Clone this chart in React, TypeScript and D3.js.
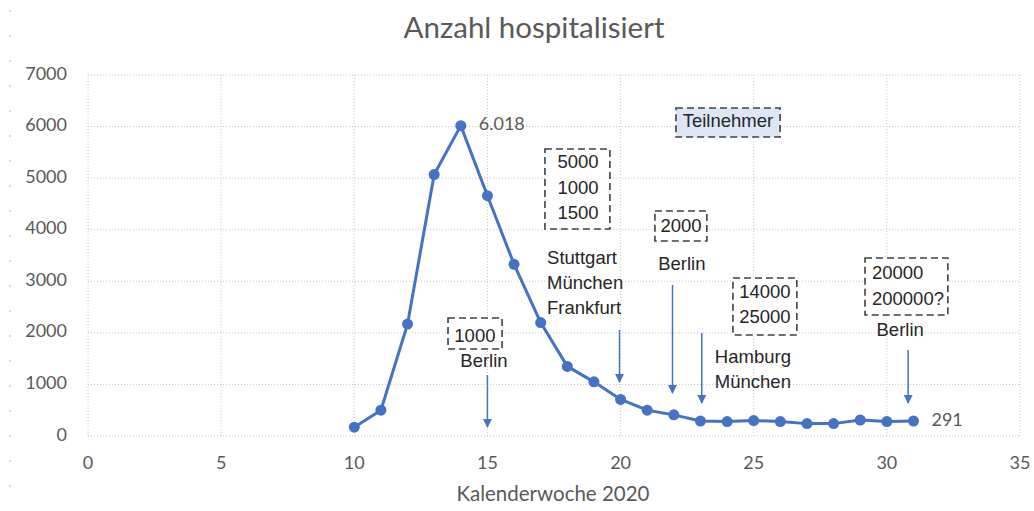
import React from 'react';
import * as d3 from 'd3';

// Kalenderwoche / hospitalisierte Fälle
const weeks = [10, 11, 12, 13, 14, 15, 16, 17, 18, 19, 20, 21, 22, 23, 24, 25, 26, 27, 28, 29, 30, 31];
const hospitalized = [170, 500, 2170, 5070, 6018, 4660, 3330, 2200, 1350, 1050, 710, 500, 410, 290, 280, 300, 280, 240, 240, 310, 280, 291];

const xTicks = [0, 5, 10, 15, 20, 25, 30, 35];
const yTicks = [0, 1000, 2000, 3000, 4000, 5000, 6000, 7000];

const title = 'Anzahl hospitalisiert';
const xTitle = 'Kalenderwoche 2020';

// annotations, in chart coordinates (week, value)
const noteTexts = [
    { week: 24.03, value: 6089, text: 'Teilnehmer', anchor: 'middle' },
    { week: 18.4, value: 5294, text: '5000', anchor: 'middle' },
    { week: 18.4, value: 4790, text: '1000', anchor: 'middle' },
    { week: 18.4, value: 4305, text: '1500', anchor: 'middle' },
    { week: 22.27, value: 4053, text: '2000', anchor: 'middle' },
    { week: 22.3, value: 3316, text: 'Berlin', anchor: 'middle' },
    { week: 17.24, value: 3432, text: 'Stuttgart', anchor: 'start' },
    { week: 17.24, value: 2947, text: 'München', anchor: 'start' },
    { week: 17.24, value: 2463, text: 'Frankfurt', anchor: 'start' },
    { week: 25.42, value: 2773, text: '14000', anchor: 'middle' },
    { week: 25.42, value: 2288, text: '25000', anchor: 'middle' },
    { week: 23.54, value: 1513, text: 'Hamburg', anchor: 'start' },
    { week: 23.54, value: 1028, text: 'München', anchor: 'start' },
    { week: 29.44, value: 3141, text: '20000', anchor: 'start' },
    { week: 29.44, value: 2637, text: '200000?', anchor: 'start' },
    { week: 30.5, value: 2036, text: 'Berlin', anchor: 'middle' },
    { week: 14.53, value: 1920, text: '1000', anchor: 'middle' },
    { week: 14.87, value: 1435, text: 'Berlin', anchor: 'middle' },
];

const noteBoxes = [
    { w0: 22.08, w1: 25.99, v0: 6360, v1: 5798, fill: '#dce6f5' },
    { w0: 17.16, w1: 19.6, v0: 5565, v1: 4014, fill: 'white' },
    { w0: 21.29, w1: 23.24, v0: 4363, v1: 3781, fill: 'white' },
    { w0: 24.22, w1: 26.62, v0: 3064, v1: 1959, fill: 'white' },
    { w0: 29.18, w1: 32.29, v0: 3452, v1: 2346, fill: 'white' },
    { w0: 13.52, w1: 15.55, v0: 2288, v1: 1687, fill: 'white' },
];

const arrows = [
    { week: 15, from: 1183, to: 175 },
    { week: 19.96, from: 2055, to: 1047 },
    { week: 21.95, from: 2928, to: 834 },
    { week: 23.05, from: 1997, to: 640 },
    { week: 30.8, from: 1668, to: 640 },
];

const W = 1034;
const H = 511;
const blue = '#4472c4';
const gray = '#595959';

const App: React.FC = () => {
    const x = d3.scaleLinear().domain([0, 35]).range([88, 1020]);
    const y = d3.scaleLinear().domain([0, 7000]).range([436, 75]);

    const points = weeks.map((w, i) => ({ w, v: hospitalized[i] }));
    const line = d3.line<{ w: number; v: number }>()
        .x(d => x(d.w))
        .y(d => y(d.v));

    const peak = points[hospitalized.indexOf(d3.max(hospitalized) as number)];
    const last = points[points.length - 1];
    const fmt = d3.formatLocale({ decimal: ',', thousands: '.', grouping: [3], currency: ['', '€'] }).format(',');

    const gridStyle = { stroke: '#c8c8c8', strokeWidth: 1, strokeDasharray: '1 2' };

    return (
        <div style={{ position: 'fixed', left: 0, top: 0 }}>
            <svg width={W} height={H} style={{ display: 'block', background: 'white' }}>
                <defs>
                    <marker id="arrowhead" viewBox="0 0 10 10" refX="9" refY="5" markerWidth="6" markerHeight="6" orient="auto">
                        <path d="M0,0 L10,5 L0,10 z" fill={blue} />
                    </marker>
                </defs>

                {/* stray dashes at the left edge */}
                <line x1={10} x2={10} y1={10} y2={505} stroke="#b8b8b8" strokeWidth={1} strokeDasharray="2 23" />

                <text x={534} y={38} textAnchor="middle" fontFamily="Lato" fontSize={29.5} fill={gray}>{title}</text>

                <g className="grid">
                    {yTicks.map(t => (
                        <line key={'h' + t} x1={x(0)} x2={x(35)} y1={y(t)} y2={y(t)} style={gridStyle} />
                    ))}
                    {xTicks.map(t => (
                        <line key={'v' + t} x1={x(t)} x2={x(t)} y1={y(0)} y2={y(7000)} style={gridStyle} />
                    ))}
                </g>

                <g className="y-axis" fontFamily="Lato" fontSize={18} fill={gray}>
                    {yTicks.map(t => (
                        <text key={t} x={67} y={y(t)} textAnchor="end" dominantBaseline="middle">{t}</text>
                    ))}
                </g>
                <g className="x-axis" fontFamily="Lato" fontSize={18} fill={gray}>
                    {xTicks.map(t => (
                        <text key={t} x={x(t)} y={y(0) + 28} textAnchor="middle" dominantBaseline="middle">{t}</text>
                    ))}
                </g>
                <text x={553} y={501} textAnchor="middle" fontFamily="Lato" fontSize={20.5} fill={gray}>{xTitle}</text>

                {/* annotation boxes */}
                {noteBoxes.map((b, i) => (
                    <rect key={i} x={x(b.w0)} y={y(b.v0)} width={x(b.w1) - x(b.w0)} height={y(b.v1) - y(b.v0)}
                        fill={b.fill} stroke="#404040" strokeWidth={1.6} strokeDasharray="7 4" />
                ))}

                <g fontFamily="Liberation Sans, Arial, sans-serif" fontSize={18.5} fill="#262626">
                    {noteTexts.map((n, i) => (
                        <text key={i} x={x(n.week)} y={y(n.value)} textAnchor={n.anchor} dominantBaseline="middle">{n.text}</text>
                    ))}
                </g>

                {arrows.map((a, i) => (
                    <line key={i} x1={x(a.week)} x2={x(a.week)} y1={y(a.from)} y2={y(a.to)}
                        stroke={blue} strokeWidth={1.5} markerEnd="url(#arrowhead)" />
                ))}

                <path d={line(points) || ''} fill="none" stroke={blue} strokeWidth={3} strokeLinejoin="round" />
                {points.map(p => (
                    <circle key={p.w} cx={x(p.w)} cy={y(p.v)} r={5.5} fill={blue} />
                ))}

                <g fontFamily="Lato" fontSize={18} fill={gray}>
                    <text x={x(peak.w) + 18} y={y(peak.v)} dominantBaseline="middle">{fmt(peak.v)}</text>
                    <text x={x(last.w) + 18} y={y(last.v)} dominantBaseline="middle">{last.v}</text>
                </g>
            </svg>
        </div>
    );
};

export default App;
